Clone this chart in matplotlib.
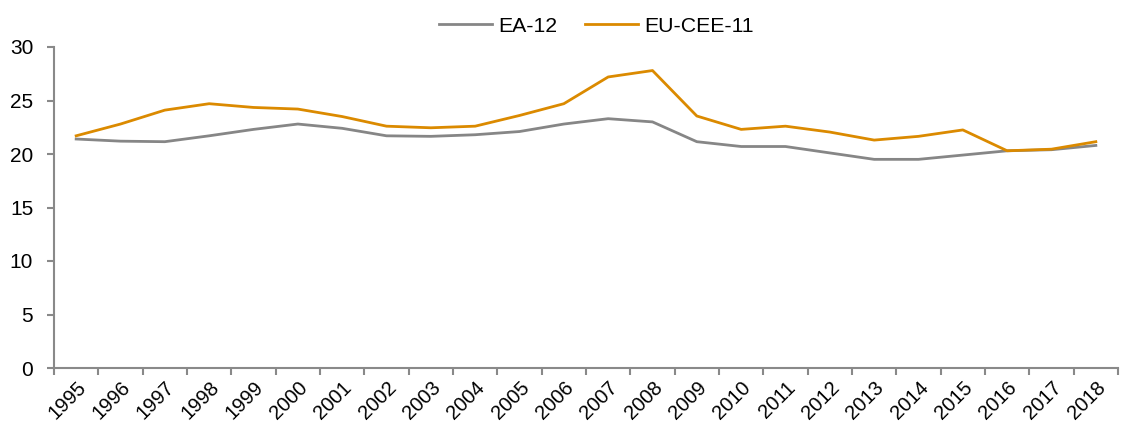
import matplotlib
import matplotlib.pyplot as plt
import numpy as np
from matplotlib.ticker import FixedLocator

matplotlib.rcParams["font.family"] = ["Liberation Sans", "DejaVu Sans"]

years = [str(y) for y in range(1995, 2019)]
ea12 = [21.4, 21.2, 21.15, 21.7, 22.3, 22.8, 22.4, 21.7, 21.65, 21.8, 22.1, 22.8,
        23.3, 23.0, 21.15, 20.7, 20.7, 20.1, 19.5, 19.5, 19.9, 20.3, 20.4, 20.8]
eu_cee11 = [21.7, 22.8, 24.1, 24.7, 24.35, 24.2, 23.5, 22.6, 22.45, 22.6, 23.6, 24.7,
            27.2, 27.8, 23.55, 22.3, 22.6, 22.05, 21.3, 21.65, 22.25, 20.3, 20.45, 21.15]
yticks = [0, 5, 10, 15, 20, 25, 30]

axis_grey = "#898989"

fig = plt.figure(figsize=(11.28, 4.26), dpi=100)
ax = fig.add_axes([54 / 1128, 1 - 368 / 426, 1064 / 1128, 321 / 426])

x = np.arange(len(years))
ax.plot(x, ea12, color="#868686", lw=2.0, label="EA-12")
ax.plot(x, eu_cee11, color="#DB8A00", lw=2.0, label="EU-CEE-11")

ax.set_xlim(-0.5, len(years) - 0.5)
ax.set_ylim(0, 30)
ax.set_yticks(yticks)
ax.set_xticks(x)
ax.set_xticklabels(years, rotation=45, ha="right", rotation_mode="anchor", fontsize=14.5)
ax.xaxis.set_minor_locator(FixedLocator(np.arange(-0.5, len(years), 1.0)))
ax.tick_params(axis="x", which="major", length=0, pad=7)
ax.tick_params(axis="x", which="minor", length=5, width=1.5, color=axis_grey)
ax.tick_params(axis="y", length=5, width=1.5, color=axis_grey, labelsize=15, pad=10)

for s in ["top", "right"]:
    ax.spines[s].set_visible(False)
for s in ["left", "bottom"]:
    ax.spines[s].set_color(axis_grey)
    ax.spines[s].set_linewidth(1.5)

fig.legend(loc="center", bbox_to_anchor=(596.5 / 1128, 1 - 26 / 426), ncol=2,
           frameon=False, fontsize=15.3, handlelength=2.5, handletextpad=0.3,
           columnspacing=1.3)

fig.savefig("out.png", dpi=100)
